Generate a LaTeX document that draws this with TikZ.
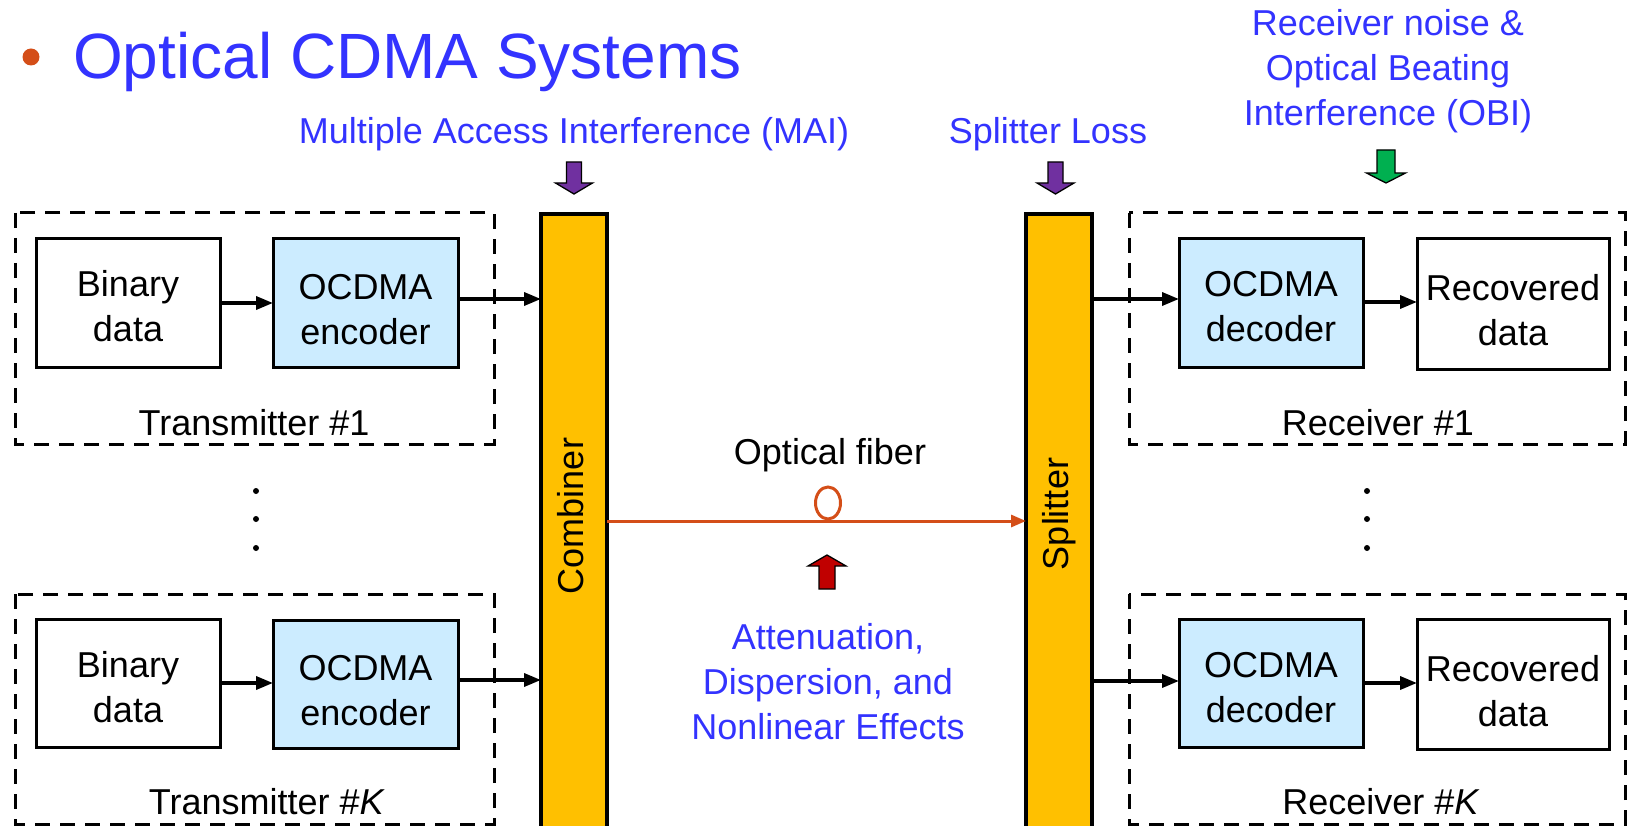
\documentclass[tikz,border=0pt]{standalone}
\usepackage{fontspec}
\setmainfont{Liberation Sans}
\usetikzlibrary{arrows.meta}

\definecolor{headblue}{RGB}{51,51,255}
\definecolor{barfill}{RGB}{255,192,0}
\definecolor{codecfill}{RGB}{204,236,255}
\definecolor{fiberorange}{RGB}{212,78,24}
\definecolor{ptrpurple}{RGB}{112,48,160}
\definecolor{ptrgreen}{RGB}{0,176,80}
\definecolor{ptrred}{RGB}{192,0,0}

% block pointer: x-centre, shaft start, head base, tip, shaft half width, head half width, colour
\newcommand\BlockPointer[7]{%
  \filldraw[fill=#7, draw=black, line width=1.3pt, line join=miter]
    (#1-#5,#2) -- (#1+#5,#2) -- (#1+#5,#3) -- (#1+#6,#3) -- (#1,#4)
    -- (#1-#6,#3) -- (#1-#5,#3) -- cycle;}

\begin{document}
\begin{tikzpicture}[x=1pt, y=-1pt,
  txt/.style={font=\fontsize{36}{45}\selectfont, align=center, inner sep=0pt},
  bluetxt/.style={txt, text=headblue},
  blk/.style={draw, line width=3pt, fill=white, minimum width=184pt,
    minimum height=128pt, outer sep=0pt, txt, text height=78pt},
  codec/.style={blk, fill=codecfill, minimum width=185pt},
  group/.style={draw, line width=3pt, dash pattern=on 15pt off 10pt},
  bar/.style={draw, line width=3.5pt, fill=barfill, minimum width=66pt,
    minimum height=640pt, outer sep=0pt},
  sig/.style={line width=3.5pt, -{Triangle[length=17pt,width=13pt]}},
  fiberline/.style={draw=fiberorange, line width=3pt,
    -{Triangle[length=15pt,width=12pt]}},
  dot/.style={circle, fill, inner sep=0pt, minimum size=6pt}]

\clip (0,0) rectangle (1628,826);
\useasboundingbox (0,0) rectangle (1628,826);

% heading
\fill[fiberorange] (31,57) circle (8.5pt);
\node[anchor=base west, inner sep=0pt, text=headblue,
  font=\fontsize{64}{70}\selectfont] (title) at (73,79) {Optical CDMA Systems};

% impairment labels
\node[bluetxt, anchor=base] (mai) at (574,144) {Multiple Access Interference (MAI)};
\node[bluetxt, anchor=base] (loss) at (1048,144) {Splitter Loss};
\node[bluetxt] (obi) at (1388,71) {Receiver noise \&\\Optical Beating\\Interference (OBI)};
\node[bluetxt] (fibimp) at (828,682) {Attenuation,\\Dispersion, and\\Nonlinear Effects};

\BlockPointer{574}{162}{183}{194}{7.5}{18.5}{ptrpurple}
\BlockPointer{1055.5}{162}{183}{194}{7.5}{18.5}{ptrpurple}
\BlockPointer{1386}{150}{173}{183}{9}{19.5}{ptrgreen}
\BlockPointer{827}{589}{566}{555}{8}{19}{ptrred}

% transmitter and receiver groups
\draw[group] (15,213) rectangle (494,444);
\draw[group] (15,594) rectangle (494,824);
\draw[group] (1129,213) rectangle (1625,444);
\draw[group] (1129,594) rectangle (1625,824);

\node[txt, anchor=base] (tx1lbl) at (254,435) {Transmitter \#1};
\node[txt, anchor=base] (txklbl) at (267,814) {Transmitter \#\textit{K}};
\node[txt, anchor=base] (rx1lbl) at (1378,435) {Receiver \#1};
\node[txt, anchor=base] (rxklbl) at (1381,814) {Receiver \#\textit{K}};

% combiner and splitter
\node[bar] (comb) at (574,534) {};
\node[bar] (split) at (1059,534) {};
\node[txt, rotate=90] (comblbl) at (571,516) {Combiner};
\node[txt, rotate=90] (splitlbl) at (1059,514) {Splitter};

% transmitter blocks
\node[blk] (bin1) at (128,303) {Binary\\data};
\node[codec, text height=83.5pt] (enc1) at (365.5,303) {OCDMA\\encoder};
\node[blk] (bink) at (128,683.5) {Binary\\data};
\node[codec, text height=83.5pt] (enck) at (365.5,684) {OCDMA\\encoder};

% receiver blocks
\node[codec, minimum width=184pt] (dec1) at (1271,303) {OCDMA\\decoder};
\node[blk, minimum width=192pt, minimum height=130pt, text height=83.5pt] (rec1) at (1513,304) {Recovered\\data};
\node[codec, minimum width=184pt] (deck) at (1271,683.5) {OCDMA\\decoder};
\node[blk, minimum width=192pt, minimum height=130pt, text height=83.5pt] (reck) at (1513,684.5) {Recovered\\data};

% vertical ellipses between the groups
\node[dot] (tdot1) at (256,491) {};
\node[dot] (tdot2) at (256,519) {};
\node[dot] (tdot3) at (256,548) {};
\node[dot] (rdot1) at (1367,491) {};
\node[dot] (rdot2) at (1367,519) {};
\node[dot] (rdot3) at (1367,548) {};

% signal paths
\draw[sig] (bin1.east |- 0,303) -- (enc1.west |- 0,303);
\draw[sig] (enc1.east |- 0,299) -- (comb.west |- 0,299);
\draw[sig] (bink.east |- 0,683) -- (enck.west |- 0,683);
\draw[sig] (enck.east |- 0,680) -- (comb.west |- 0,680);
\draw[sig] (split.east |- 0,299) -- (dec1.west |- 0,299);
\draw[sig] (dec1.east |- 0,302) -- (rec1.west |- 0,302);
\draw[sig] (split.east |- 0,681) -- (deck.west |- 0,681);
\draw[sig] (deck.east |- 0,683) -- (reck.west |- 0,683);

% optical fiber with its coil
\coordinate (fib) at (828,521);
\draw[fiberorange, line width=3pt] (828,503) ellipse [x radius=12.5pt, y radius=16pt];
\draw[fiberline] (comb.east |- fib) -- (split.west |- fib);
\node[txt, anchor=base] (fiblbl) at (830,464) {Optical fiber};

\end{tikzpicture}
\end{document}
